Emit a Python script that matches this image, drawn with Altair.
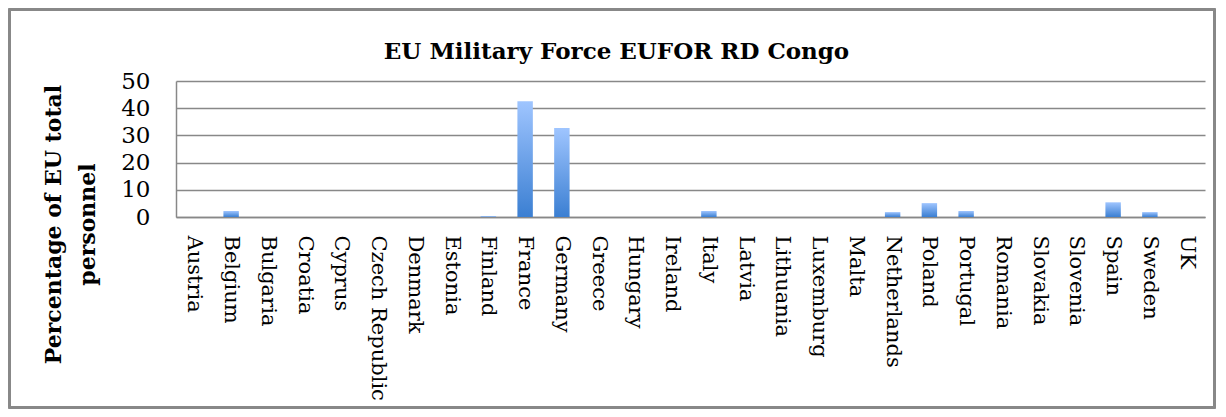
import altair as alt
import pandas as pd

countries = ["Austria", "Belgium", "Bulgaria", "Croatia", "Cyprus", "Czech Republic",
             "Denmark", "Estonia", "Finland", "France", "Germany", "Greece", "Hungary",
             "Ireland", "Italy", "Latvia", "Lithuania", "Luxemburg", "Malta", "Netherlands",
             "Poland", "Portugal", "Romania", "Slovakia", "Slovenia", "Spain", "Sweden", "UK"]
values = [0, 2.2, 0, 0, 0, 0,
          0, 0, 0.3, 42.6, 32.7, 0, 0,
          0, 2.2, 0, 0, 0, 0, 1.8,
          5.1, 2.2, 0, 0, 0, 5.4, 1.8, 0]
y_ticks = [0, 10, 20, 30, 40, 50]

df = pd.DataFrame({"country": countries, "value": values})

W, H = 1029, 136
FONT = "DejaVu Serif"
GRAY = "#888888"

grad = alt.Gradient(
    gradient="linear",
    stops=[alt.GradientStop(color="#9fc5ff", offset=0),
           alt.GradientStop(color="#3b7fd2", offset=1)],
    x1=0, x2=0, y1=0, y2=1,
)

bars = alt.Chart(df).mark_bar(color=grad).encode(
    x=alt.X("country:N", sort=countries,
            scale=alt.Scale(paddingInner=0.58, paddingOuter=0.29),
            axis=alt.Axis(title=None, labelAngle=90, labelAlign="left", labelBaseline="middle",
                          labelPadding=18, ticks=False, domainColor=GRAY, domainWidth=1.5,
                          labelFont=FONT, labelFontSize=21, labelColor="black")),
    y=alt.Y("value:Q", scale=alt.Scale(domain=[0, 50]),
            axis=alt.Axis(values=y_ticks, title=["Percentage of EU total", "personnel"],
                          titleFont=FONT, titleFontSize=22, titleFontWeight="bold",
                          titleColor="black", titleAngle=-90, titleAlign="center",
                          titleBaseline="top", titleX=-133, titleY=143, titleLineHeight=34,
                          labelFont=FONT, labelFontSize=23, labelColor="black", labelPadding=26,
                          ticks=False, grid=True, gridColor=GRAY, gridWidth=1.5,
                          domainColor=GRAY, domainWidth=1.5)),
)

frame = alt.Chart(df).mark_rect(fill=None, stroke=GRAY, strokeWidth=1.5, clip=False).encode(
    x=alt.value(-166.5), x2=alt.value(1038.5), y=alt.value(-71.5), y2=alt.value(326.5)
)

chart = alt.layer(bars, frame).properties(
    width=W, height=H,
    title=alt.TitleParams("EU Military Force EUFOR RD Congo", font=FONT, fontSize=23,
                          fontWeight="bold", color="black", anchor="middle", dx=-74,
                          offset=0, dy=55),
    autosize=alt.AutoSizeParams(type="none"),
    padding={"left": 168, "top": 73, "right": 13, "bottom": 192},
).configure_view(stroke=None)

chart.save("out.html", embed_options={"renderer": "svg", "actions": False})
